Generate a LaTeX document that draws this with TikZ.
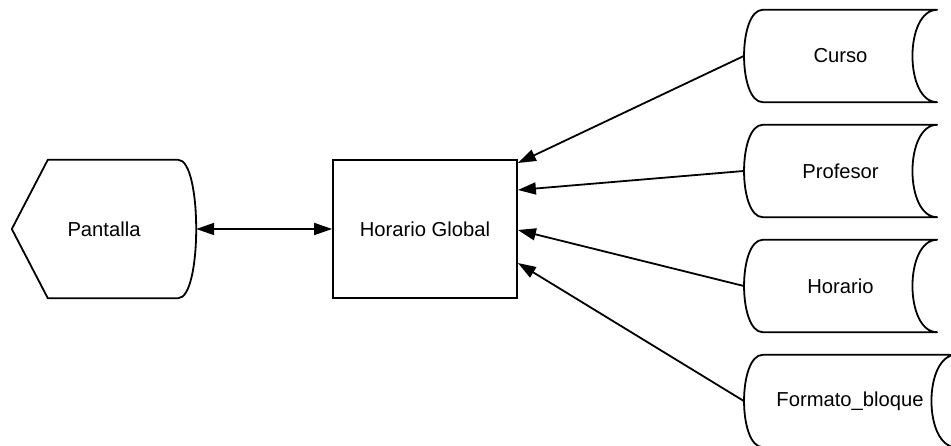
\documentclass[tikz,border=0pt]{standalone}
\usepackage{fontspec}
\setmainfont{Liberation Sans}
\usetikzlibrary{arrows.meta,calc}
\newcommand\storeddata[1]{%
  \draw[shapeline] ($(#1.north west)+(19,0)$) -- (#1.north east)
    .. controls +(-33,0) and +(-33,0) .. (#1.south east)
    -- ($(#1.south west)+(19,0)$)
    .. controls +(-25,0) and +(-25,0) .. cycle;}
\begin{document}
\begin{tikzpicture}[x=1pt,y=1pt,
  shapeline/.style={line width=1.8pt, line join=round},
  lbl/.style={font=\fontsize{20.2}{24}\selectfont, inner sep=0pt},
  holder/.style={lbl, minimum width=193pt, minimum height=92pt},
  conn/.style={line width=1.8pt, -{Triangle[length=18pt,width=12pt]}},
  biconn/.style={line width=1.8pt, {Triangle[length=18pt,width=12pt]}-{Triangle[length=18pt,width=12pt]}}]
\useasboundingbox (0,0) rectangle (951,446);
% Pantalla (display)
\node[lbl, minimum width=184pt, minimum height=138pt] (pan) at (104,217) {Pantalla};
\draw[shapeline] ($(pan.north west)+(36,0)$) -- ($(pan.north east)+(-18,0)$)
  .. controls +(24,0) and +(24,0) .. ($(pan.south east)+(-18,0)$)
  -- ($(pan.south west)+(36,0)$) -- (pan.west) -- cycle;
% Horario Global
\node[lbl, draw, line width=1.8pt, minimum width=184pt, minimum height=138pt] (hg) at (425,217) {Horario Global};
% stored data
\node[holder] (cur) at (840.5,390) {Curso};
\node[holder] (pro) at (840.5,275) {Profesor};
\node[holder] (hor) at (840.5,160) {Horario};
\node[holder, minimum width=212pt] (fmt) at (850,45) {Formato\_bloque};
\storeddata{cur}
\storeddata{pro}
\storeddata{hor}
\storeddata{fmt}
% connectors
\draw[biconn] (pan.east) -- (hg.west);
\draw[conn] (cur.west) -- ([yshift=66pt]hg.east);
\draw[conn] (pro.west) -- ([yshift=39pt]hg.east);
\draw[conn] (hor.west) -- ([yshift=-1pt]hg.east);
\draw[conn] (fmt.west) -- ([yshift=-34pt]hg.east);
\end{tikzpicture}
\end{document}
